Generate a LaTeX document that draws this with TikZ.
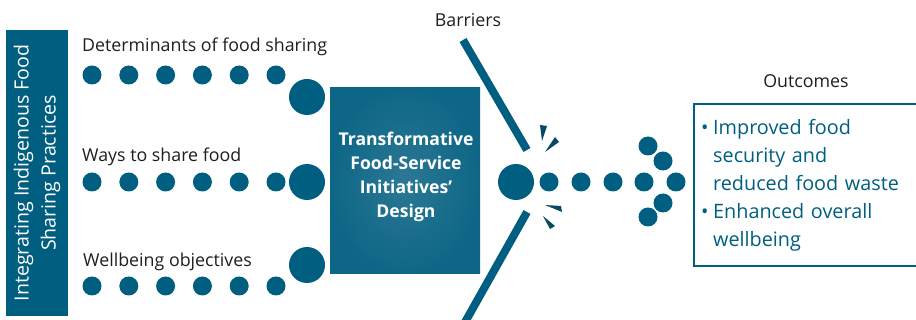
\documentclass[tikz,border=0pt]{standalone}
\usepackage{fontspec}
\setmainfont{Open Sans}
\usepackage{tikz}
\usetikzlibrary{positioning}

\definecolor{tealdark}{RGB}{0,94,128}
\definecolor{tealbox}{RGB}{14,102,134}
\definecolor{tealspark}{RGB}{8,72,100}
\definecolor{textgrey}{RGB}{30,30,30}

\newcommand{\outitem}[1]{\par\hangindent=12pt\hangafter=1\noindent\makebox[12pt][l]{\textbullet}#1\par}

\begin{document}
\begin{tikzpicture}[x=1pt, y=-1pt,
        dot/.style={circle, fill=tealdark, inner sep=0pt, minimum size=19pt},
        bigdot/.style={dot, minimum size=36pt},
        label/.style={text=textgrey, font=\fontsize{17.8}{20}\selectfont, inner sep=0pt},
        barrier/.style={draw=tealdark, line width=8pt},
        spark/.style={fill=tealspark}
    ]
        \useasboundingbox (0,0) rectangle (916,320);

        % Left title bar
        \node[fill=tealdark, minimum width=62pt, minimum height=286pt, inner sep=0pt] (practices) at (37,173) {};
        \node[rotate=90, text=white, align=center, font=\fontsize{19.6}{27}\selectfont] at (practices.center) {Integrating Indigenous Food\\Sharing Practices};

        % Row labels
        \node[label, anchor=west] (determinants) at (82,47) {Determinants of food sharing};
        \node[label, anchor=west] (ways) at (82,157) {Ways to share food};
        \node[label, anchor=west] (wellbeing) at (83,262) {Wellbeing objectives};

        % Dot rows
        \foreach \i in {0,...,5} {
            \node[dot] (det\i) at (92+36.8*\i,75) {};
            \node[dot] (way\i) at (92+36.8*\i,182) {};
            \node[dot] (wel\i) at (92+36.8*\i,286) {};
        }
        \node[bigdot] (detend) at (307,97) {};
        \node[bigdot] (wayend) at (307,182) {};
        \node[bigdot] (welend) at (307,265) {};

        % Design block
        \node[fill=tealbox, inner color=tealbox!88!white, outer color=tealbox, minimum width=150pt, minimum height=186pt, inner sep=0pt] (design) at (405,181) {};
        \node[text=white, align=center, font=\bfseries\fontsize{17.6}{24}\selectfont] at (406,177) {Transformative\\Food-Service\\Initiatives’\\Design};

        % Barriers
        \node[label] (barriers) at (468,20) {Barriers};
        \coordinate (uptop) at (463,40);
        \coordinate (upend) at (527,150);
        \coordinate (lowend) at (527,212);
        \coordinate (lowbot) at (464,324);
        \draw[barrier] (uptop) -- (upend);
        \draw[barrier] (lowend) -- (lowbot);

        % Sparks
        \fill[spark] (540,125) -- (547,126) -- (542,141) -- cycle;
        \fill[spark] (555,137) -- (559,142) -- (545,152) -- cycle;
        \fill[spark] (561,206) -- (562,212) -- (545,205) -- cycle;
        \fill[spark] (550,229) -- (555,226) -- (543,216) -- cycle;

        % Output stream
        \node[bigdot] (merge) at (516,182) {};
        \node[dot] (flow1) at (549,182) {};
        \node[dot] (flow2) at (581,182) {};
        \node[dot] (flow3) at (613,182) {};
        \node[dot] (head0) at (644,182) {};
        \node[dot] (head1) at (676,182) {};
        \node[dot] (headup1) at (648,146) {};
        \node[dot] (headup2) at (663,161) {};
        \node[dot] (headdn2) at (663,203) {};
        \node[dot] (headdn1) at (648,217) {};

        % Outcomes
        \node[label] (outlabel) at (806,81) {Outcomes};
        \node[draw=tealdark, line width=2pt, minimum width=226pt, minimum height=162pt, inner sep=0pt, anchor=north west] (outcomes) at (693,103) {};
        \node[text=tealdark, anchor=north west, text width=210pt, inner sep=0pt, font=\fontsize{19.8}{28}\selectfont] (outtext) at (701,106) {%
            \outitem{Improved food\newline security and\newline reduced food waste}
            \outitem{Enhanced overall\newline wellbeing}};

\end{tikzpicture}
\end{document}
